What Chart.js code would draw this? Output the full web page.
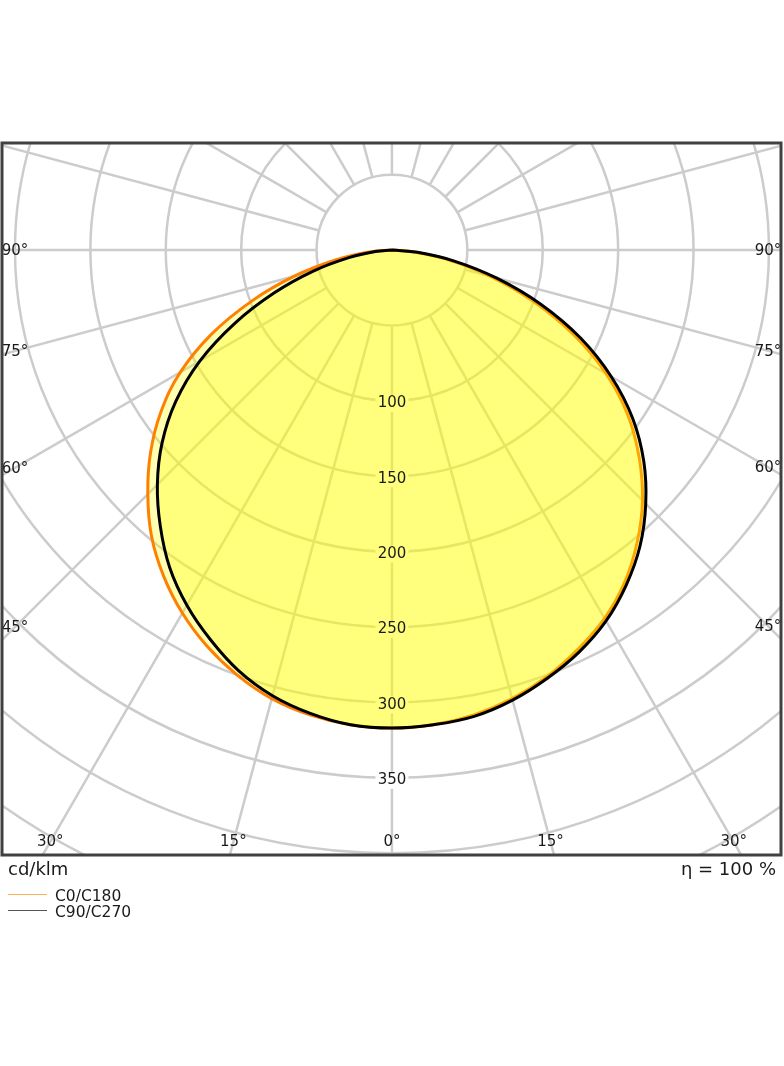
<!DOCTYPE html>
<html lang="en">
<head>
  <meta charset="UTF-8" />
  <title>Light distribution - cd/klm</title>

  <!-- Chart.js -->
  <script src="https://cdn.jsdelivr.net/npm/chart.js"></script>

  <style>
    body { margin: 0; background: #fff; font-family: "DejaVu Sans", sans-serif; color: #1a1a1a; }
    #wrap { position: relative; width: 784px; height: 1066px; overflow: hidden; }
    #ldc { position: absolute; left: 0; top: 0; }
    .txt { position: absolute; white-space: nowrap; line-height: normal; }
    .key { position: absolute; left: 8px; width: 39px; height: 0; }
  </style>
</head>
<body>
  <div id="wrap">
    <canvas id="ldc" width="784" height="1066"></canvas>

    <div class="txt" style="left:8px; top:858px; font-size:18px;">cd/klm</div>
    <div class="txt" style="right:8px; top:858px; font-size:18px;">η = 100 %</div>

    <div class="key" style="top:894px; border-top:1.5px solid #ffae5c;"></div>
    <div class="txt" style="left:55px; top:887px; font-size:15.5px;">C0/C180</div>
    <div class="key" style="top:910px; border-top:1.2px solid #555;"></div>
    <div class="txt" style="left:55px; top:903px; font-size:15.5px;">C90/C270</div>
  </div>

  <script>
    // gamma angles, left (-) to right (+), degrees from nadir
    const gammaDeg = [-90, -85, -80, -75, -70, -65, -60, -55, -50, -45, -40, -35, -30, -25, -20, -15, -10, -5,
                      0, 5, 10, 15, 20, 25, 30, 35, 40, 45, 50, 55, 60, 65, 70, 75, 80, 85, 90];

    // intensities in cd/klm
    const c0c180 = [0, 15, 38, 67, 99, 132, 162, 187, 209, 229, 248, 264, 278, 290, 300, 308, 313, 316,
                    317, 316, 313, 308, 301, 292, 282, 269, 253, 235, 214, 191, 164, 133, 100, 68, 39, 15, 0];
    const c90c270 = [0, 11, 29, 54, 83, 115, 147, 175, 199, 220, 239, 257, 272, 285, 297, 306, 312, 316,
                     317, 316, 314, 309, 302, 294, 284, 271, 256, 238, 218, 195, 168, 138, 105, 72, 42, 17, 0];

    // polar grid
    const ringValues = [50, 100, 150, 200, 250, 300, 350, 400, 450, 500];
    const ringLabels = [100, 150, 200, 250, 300, 350];
    const spokeAngles = [0, 15, 30, 45, 60, 75, 90, 105, 120, 135, 150, 165,
                         180, 195, 210, 225, 240, 255, 270, 285, 300, 315, 330, 345];
    const sideLabels = [90, 75, 60, 45];
    const bottomLabels = [-30, -15, 0, 15, 30];

    const rad = d => d * Math.PI / 180;

    function toXY(values) {
      return gammaDeg.map((g, i) => ({
        x: values[i] * Math.sin(rad(g)),
        y: -values[i] * Math.cos(rad(g))
      }));
    }

    const font = '15px "DejaVu Sans", sans-serif';

    const polarGrid = {
      id: 'polarGrid',
      beforeDatasetsDraw(chart) {
        const { ctx, chartArea: a, scales: { x, y } } = chart;
        const cx = x.getPixelForValue(0);
        const cy = y.getPixelForValue(0);
        const k = x.getPixelForValue(1) - cx;

        ctx.save();
        ctx.beginPath();
        ctx.rect(a.left, a.top, a.right - a.left, a.bottom - a.top);
        ctx.clip();

        ctx.strokeStyle = '#cccccc';
        ctx.lineWidth = 2.5;
        ringValues.forEach(r => {
          ctx.beginPath();
          ctx.arc(cx, cy, r * k, 0, Math.PI * 2);
          ctx.stroke();
        });
        const r0 = ringValues[0] * k;
        const r1 = ringValues[ringValues.length - 1] * k;
        spokeAngles.forEach(g => {
          const s = Math.sin(rad(g)), c = Math.cos(rad(g));
          ctx.beginPath();
          ctx.moveTo(cx + r0 * s, cy + r0 * c);
          ctx.lineTo(cx + r1 * s, cy + r1 * c);
          ctx.stroke();
        });

        // label backgrounds under the fill
        ctx.fillStyle = '#ffffff';
        ringLabels.forEach(v => {
          ctx.fillRect(cx - 16.5, cy + v * k + 2.5 - 8.5, 33, 17);
        });
        ctx.restore();
      },
      afterDatasetsDraw(chart) {
        const { ctx, chartArea: a, scales: { x, y } } = chart;
        const cx = x.getPixelForValue(0);
        const cy = y.getPixelForValue(0);
        const k = x.getPixelForValue(1) - cx;
        const inset = 13;

        ctx.save();
        ctx.beginPath();
        ctx.rect(a.left, a.top, a.right - a.left, a.bottom - a.top);
        ctx.clip();
        ctx.fillStyle = '#1a1a1a';
        ctx.font = font;
        ctx.textAlign = 'center';
        ctx.textBaseline = 'middle';

        ringLabels.forEach(v => ctx.fillText(String(v), cx, cy + v * k + 2.5));

        sideLabels.forEach(g => {
          const lx = a.left + inset, rx = a.right - inset;
          const ly = cy + (cx - lx) / Math.tan(rad(g));
          const ry = cy + (rx - cx) / Math.tan(rad(g));
          ctx.fillText(g + '°', lx, ly + 1);
          ctx.fillText(g + '°', rx, ry + 1);
        });

        bottomLabels.forEach(g => {
          const by = a.bottom - inset;
          const bx = cx + (by - cy) * Math.tan(rad(g));
          ctx.fillText(Math.abs(g) + '°', bx, by);
        });
        ctx.restore();
      },
      afterDraw(chart) {
        const { ctx, chartArea: a } = chart;
        ctx.save();
        ctx.strokeStyle = '#404040';
        ctx.lineWidth = 3;
        ctx.strokeRect(a.left, a.top, a.right - a.left, a.bottom - a.top);
        ctx.restore();
      }
    };

    new Chart(document.getElementById('ldc'), {
      type: 'scatter',
      data: {
        datasets: [
          {
            label: 'C90/C270',
            data: toXY(c90c270),
            showLine: true,
            borderColor: '#000000',
            borderWidth: 3,
            borderJoinStyle: 'round',
            backgroundColor: 'rgba(255, 255, 0, 0.3)',
            fill: 'shape',
            pointRadius: 0,
            tension: 0.4,
            order: 0
          },
          {
            label: 'C0/C180',
            data: toXY(c0c180),
            showLine: true,
            borderColor: '#ff8000',
            borderWidth: 3,
            borderJoinStyle: 'round',
            backgroundColor: 'rgba(255, 255, 0, 0.3)',
            fill: 'shape',
            pointRadius: 0,
            tension: 0.4,
            order: 1
          }
        ]
      },
      options: {
        responsive: false,
        animation: false,
        layout: { padding: { left: 2, right: 3, top: 143, bottom: 211 } },
        plugins: {
          legend: { display: false },
          tooltip: { enabled: false }
        },
        scales: {
          x: { type: 'linear', min: -258.6, max: 258.0, display: false },
          y: { type: 'linear', min: -401.2, max: 71.0, display: false }
        }
      },
      plugins: [polarGrid]
    });
  </script>
</body>
</html>
